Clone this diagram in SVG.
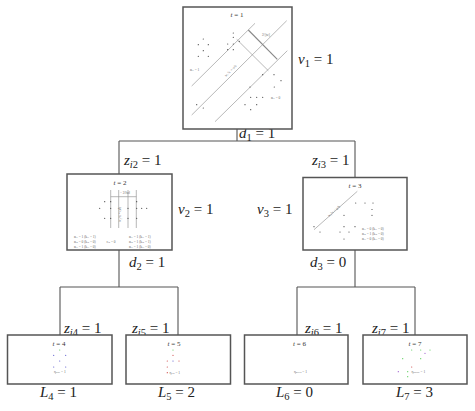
<svg xmlns="http://www.w3.org/2000/svg" width="475" height="411" viewBox="0 0 475 411">
<style>
.node{fill:#fff;stroke:#555;stroke-width:1.5}
.conn{fill:none;stroke:#555;stroke-width:1.1}
.lbl{font-family:"Liberation Serif",serif;font-size:15px;fill:#222}
.it{font-style:italic}
.sub{font-size:10.5px}
.tt{font-family:"Liberation Serif",serif;font-size:7px;fill:#333;text-anchor:middle}
.tiny{font-family:"Liberation Serif",serif;font-size:3.5px;fill:#666}
.gl{stroke:#999;stroke-width:0.7;fill:none}
.dot{fill:#444}
</style>
<g id="connectors">
<path class="conn" d="M237,129 V141 M119,141 H355 M119,141 V174 M355,141 V177.5"/>
<path class="conn" d="M119,250 V287 M60,287 H178 M60,287 V335 M178,287 V335"/>
<path class="conn" d="M355,250 V287 M297,287 H415 M297,287 V335 M415,287 V335"/>
</g>
<g id="edge-labels">
<text class="lbl" x="239" y="138"><tspan class="it">d</tspan><tspan class="sub" dy="2.5">1</tspan><tspan dy="-2.5"> = 1</tspan></text>
<text class="lbl" x="124" y="165"><tspan class="it">z</tspan><tspan class="sub it" dy="2.5">i</tspan><tspan class="sub">2</tspan><tspan dy="-2.5"> = 1</tspan></text>
<text class="lbl" x="312" y="165"><tspan class="it">z</tspan><tspan class="sub it" dy="2.5">i</tspan><tspan class="sub">3</tspan><tspan dy="-2.5"> = 1</tspan></text>
<text class="lbl" x="129" y="267"><tspan class="it">d</tspan><tspan class="sub" dy="2.5">2</tspan><tspan dy="-2.5"> = 1</tspan></text>
<text class="lbl" x="310" y="267"><tspan class="it">d</tspan><tspan class="sub" dy="2.5">3</tspan><tspan dy="-2.5"> = 0</tspan></text>
<text class="lbl" x="64" y="333"><tspan class="it">z</tspan><tspan class="sub it" dy="2.5">i</tspan><tspan class="sub">4</tspan><tspan dy="-2.5"> = 1</tspan></text>
<text class="lbl" x="132" y="333"><tspan class="it">z</tspan><tspan class="sub it" dy="2.5">i</tspan><tspan class="sub">5</tspan><tspan dy="-2.5"> = 1</tspan></text>
<text class="lbl" x="305" y="333"><tspan class="it">z</tspan><tspan class="sub it" dy="2.5">i</tspan><tspan class="sub">6</tspan><tspan dy="-2.5"> = 1</tspan></text>
<text class="lbl" x="372" y="333"><tspan class="it">z</tspan><tspan class="sub it" dy="2.5">i</tspan><tspan class="sub">7</tspan><tspan dy="-2.5"> = 1</tspan></text>
</g>
<g id="node1">
<rect class="node" x="183" y="7" width="109" height="122"/>
<text class="tt" x="237" y="17"><tspan font-style="italic">t</tspan> = 1</text>
<path class="gl" d="M191.7,86 L255,23.3 M191.7,115 L286.7,20.7 M215,121.7 L287.3,50.7 M236.7,39.3 L268.3,70.7"/>
<path d="M248.3,30 L277.3,59.3" stroke="#888" stroke-width="1.1"/>
<text class="tiny" x="262" y="36">2/||w||</text>
<text class="tiny" x="226" y="77" transform="rotate(-45 226 77)">w₁ᵀx = φ/b</text>
<text class="tiny" x="190" y="71">α<tspan font-size="2.5">i1</tspan> = 1</text>
<text class="tiny" x="271" y="99">α<tspan font-size="2.5">i1</tspan> = 0</text>
<g class="dot">
<circle cx="203.3" cy="39" r="0.6"/><circle cx="198.3" cy="44.7" r="0.6"/><circle cx="208.3" cy="44.7" r="0.6"/><circle cx="203.3" cy="50.7" r="0.6"/><circle cx="198.3" cy="56.3" r="0.6"/><circle cx="208.3" cy="56.3" r="0.6"/>
<circle cx="233.3" cy="33" r="0.6"/><circle cx="233.3" cy="37.3" r="0.6"/><circle cx="227.7" cy="44" r="0.6"/><circle cx="233.3" cy="44" r="0.6"/><circle cx="239.3" cy="41.3" r="0.6"/><circle cx="227.7" cy="49.7" r="0.6"/><circle cx="233.3" cy="49.7" r="0.6"/>
<circle cx="262.7" cy="74.7" r="0.6"/><circle cx="274" cy="74.7" r="0.6"/><circle cx="281" cy="80.7" r="0.6"/><circle cx="274.3" cy="87" r="0.6"/><circle cx="250" cy="87" r="0.6"/><circle cx="250.7" cy="97.3" r="0.6"/><circle cx="256.7" cy="97.3" r="0.6"/><circle cx="262.7" cy="97.3" r="0.6"/><circle cx="245" cy="104.7" r="0.6"/><circle cx="256.7" cy="104.7" r="0.6"/><circle cx="250.7" cy="109.7" r="0.6"/>
<circle cx="196.7" cy="104.7" r="0.6"/><circle cx="203.3" cy="108" r="0.6"/>
</g>
<text class="lbl" x="298" y="64"><tspan class="it">v</tspan><tspan class="sub" dy="2.5">1</tspan><tspan dy="-2.5"> = 1</tspan></text>
</g>
<g id="node2">
<rect class="node" x="67" y="174" width="105" height="76"/>
<text class="tt" x="120" y="185"><tspan font-style="italic">t</tspan> = 2</text>
<path class="gl" d="M110.7,190 V228 M118.7,190 V228 M128,190 V228 M136.3,190 V228 M110.7,196.7 H136.3"/>
<text class="tiny" x="120" y="194">− 2/‖w‖</text>
<text class="tiny" x="121" y="222" transform="rotate(-90 121 222)">w₂ᵀx = φ/b</text>
<g class="dot">
<circle cx="104.7" cy="201.7" r="0.6"/><circle cx="99.7" cy="208.3" r="0.6"/><circle cx="110.7" cy="208.3" r="0.6"/><circle cx="110.7" cy="201.7" r="0.6"/><circle cx="104.7" cy="218.3" r="0.6"/><circle cx="110.7" cy="218.3" r="0.6"/>
<circle cx="136.7" cy="201.7" r="0.6"/><circle cx="136.7" cy="208.3" r="0.6"/><circle cx="141.7" cy="208.3" r="0.6"/><circle cx="146.7" cy="208.3" r="0.6"/><circle cx="128" cy="208.3" r="0.6"/><circle cx="136.7" cy="218.3" r="0.6"/><circle cx="128" cy="218.3" r="0.6"/>
</g>
<text class="tiny" x="74" y="237.5">α<tspan font-size="2.5">i1</tspan> = 1 (k<tspan font-size="2.5">i1</tspan> = 1)</text>
<text class="tiny" x="74" y="242.5">α<tspan font-size="2.5">i2</tspan> = 0 (k<tspan font-size="2.5">i2</tspan> = 0)</text>
<text class="tiny" x="74" y="247.5">α<tspan font-size="2.5">i3</tspan> = 1 (k<tspan font-size="2.5">i3</tspan> = 0)</text>
<text class="tiny" x="106.5" y="242.5">c<tspan font-size="2.5">i2</tspan> = 0</text>
<text class="tiny" x="129" y="237.5">α<tspan font-size="2.5">i1</tspan> = 1 (k<tspan font-size="2.5">i1</tspan> = 1)</text>
<text class="tiny" x="129" y="242.5">α<tspan font-size="2.5">i2</tspan> = 1 (k<tspan font-size="2.5">i2</tspan> = 1)</text>
<text class="tiny" x="129" y="247.5">α<tspan font-size="2.5">i3</tspan> = 1 (k<tspan font-size="2.5">i3</tspan> = 0)</text>
<text class="lbl" x="178" y="214"><tspan class="it">v</tspan><tspan class="sub" dy="2.5">2</tspan><tspan dy="-2.5"> = 1</tspan></text>
</g>
<g id="node3">
<rect class="node" x="303" y="177.5" width="104" height="72.5"/>
<text class="tt" x="355" y="188"><tspan font-style="italic">t</tspan> = 3</text>
<path class="gl" d="M314,229.7 L357.3,191.3"/>
<text class="tiny" x="329" y="217" transform="rotate(-42 329 217)">w₃ᵀx = φ/b</text>
<g class="dot">
<circle cx="355.7" cy="203" r="0.6"/><circle cx="365" cy="203" r="0.6"/><circle cx="373" cy="203" r="0.6"/><circle cx="372" cy="209.5" r="0.6"/><circle cx="344" cy="215.3" r="0.6"/><circle cx="372" cy="215.3" r="0.6"/>
<circle cx="314" cy="226.7" r="0.6"/><circle cx="344" cy="226.7" r="0.6"/><circle cx="355" cy="226.7" r="0.6"/><circle cx="320" cy="232" r="0.6"/><circle cx="340" cy="232" r="0.6"/><circle cx="349" cy="232" r="0.6"/><circle cx="344" cy="239" r="0.6"/>
</g>
<text class="tiny" x="362" y="229.5">α<tspan font-size="2.5">i1</tspan> = 0 (k<tspan font-size="2.5">i1</tspan> = 0)</text>
<text class="tiny" x="362" y="234.5">α<tspan font-size="2.5">i2</tspan> = 1 (k<tspan font-size="2.5">i2</tspan> = 0)</text>
<text class="tiny" x="362" y="239.5">α<tspan font-size="2.5">i3</tspan> = 0 (k<tspan font-size="2.5">i3</tspan> = 0)</text>
<text class="lbl" x="257" y="214"><tspan class="it">v</tspan><tspan class="sub" dy="2.5">3</tspan><tspan dy="-2.5"> = 1</tspan></text>
</g>
<g id="node4">
<rect class="node" x="7.5" y="335" width="104.5" height="49"/>
<text class="tt" x="59" y="345.5"><tspan font-style="italic">t</tspan> = 4</text>
<circle cx="59.7" cy="350" r="0.6" fill="#5c5"/>
<g fill="#55c"><circle cx="53.7" cy="355.3" r="0.6"/><circle cx="65.7" cy="355.3" r="0.6"/><circle cx="59.7" cy="361" r="0.6"/><circle cx="53.7" cy="367" r="0.6"/><circle cx="65.7" cy="367" r="0.6"/></g>
<text class="tiny" x="54" y="373">η<tspan font-size="2.5">blue</tspan> = 1</text>
<text class="lbl" x="40" y="397"><tspan class="it">L</tspan><tspan class="sub" dy="2.5">4</tspan><tspan dy="-2.5"> = 1</tspan></text>
</g>
<g id="node5">
<rect class="node" x="126" y="335" width="104.5" height="49"/>
<text class="tt" x="174" y="345.5"><tspan font-style="italic">t</tspan> = 5</text>
<circle cx="173" cy="350" r="0.6" fill="#5c5"/>
<g fill="#c44"><circle cx="173" cy="355.3" r="0.6"/><circle cx="167.3" cy="361" r="0.6"/><circle cx="179" cy="361" r="0.6"/><circle cx="167.3" cy="367" r="0.6"/><circle cx="167.3" cy="372.7" r="0.6"/></g>
<circle cx="173" cy="361" r="0.6" fill="#55c"/>
<text class="tiny" x="169.5" y="373.5">η<tspan font-size="2.5">red</tspan> = 1</text>
<text class="lbl" x="158" y="397"><tspan class="it">L</tspan><tspan class="sub" dy="2.5">5</tspan><tspan dy="-2.5"> = 2</tspan></text>
</g>
<g id="node6">
<rect class="node" x="244.5" y="335" width="103.5" height="49"/>
<text class="tt" x="299.5" y="345.5"><tspan font-style="italic">t</tspan> = 6</text>
<text class="tiny" x="294" y="373">η<tspan font-size="2.5">green</tspan> = 1</text>
<text class="lbl" x="276" y="397"><tspan class="it">L</tspan><tspan class="sub" dy="2.5">6</tspan><tspan dy="-2.5"> = 0</tspan></text>
</g>
<g id="node7">
<rect class="node" x="363" y="335" width="104" height="49"/>
<text class="tt" x="415" y="345.5"><tspan font-style="italic">t</tspan> = 7</text>
<g fill="#5c5"><circle cx="411.7" cy="350" r="0.6"/><circle cx="420.7" cy="350" r="0.6"/><circle cx="430" cy="350" r="0.6"/><circle cx="402.7" cy="358.7" r="0.6"/><circle cx="420.7" cy="358.7" r="0.6"/><circle cx="407.7" cy="371.7" r="0.6"/><circle cx="407.7" cy="376.7" r="0.6"/></g>
<g fill="#95c"><circle cx="425" cy="353.3" r="0.6"/><circle cx="398.3" cy="371.7" r="0.6"/></g>
<circle cx="411.7" cy="367" r="0.6" fill="#c44"/>
<text class="tiny" x="411.5" y="373">η<tspan font-size="2.5">purple</tspan> = 1</text>
<text class="lbl" x="396" y="397"><tspan class="it">L</tspan><tspan class="sub" dy="2.5">7</tspan><tspan dy="-2.5"> = 3</tspan></text>
</g>
</svg>
